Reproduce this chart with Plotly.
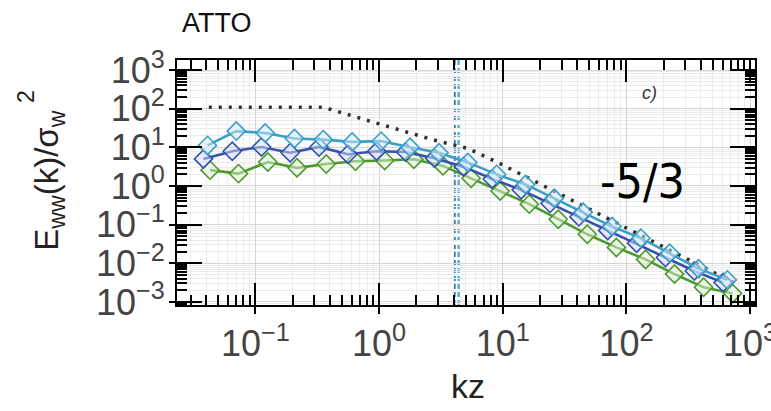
import plotly.graph_objects as go

# ---------------- data ----------------
# kz positions of the binned spectra (one list per series)
kz_cyan = [0.041, 0.070, 0.120, 0.207, 0.354, 0.606, 1.04, 1.78, 3.05, 5.22,
           8.93, 15.3, 26.1, 44.7, 76.5, 131, 224, 383, 656]
kz_blue = [0.038, 0.065, 0.112, 0.191, 0.327, 0.560, 0.958, 1.64, 2.81, 4.81,
           8.23, 14.1, 24.1, 41.3, 70.6, 121, 207, 354, 606]
kz_green = [0.043, 0.073, 0.126, 0.217, 0.374, 0.645, 1.11, 1.91, 3.29, 5.55,
            9.53, 16.4, 28.1, 48.3, 83.0, 143, 245, 421, 723]

# log10 of E_ww(k)/sigma_w^2
logE_cyan = [1.05, 1.42, 1.37, 1.23, 1.20, 1.14, 1.16, 1.00, 0.86, 0.61,
             0.30, 0.04, -0.32, -0.68, -1.05, -1.35, -1.74, -2.14, -2.43]
logE_blue = [0.70, 0.90, 1.01, 0.86, 1.01, 0.82, 0.90, 0.88, 0.72, 0.50,
             0.18, -0.10, -0.45, -0.80, -1.15, -1.48, -1.85, -2.20, -2.50]
logE_green = [0.41, 0.32, 0.62, 0.47, 0.57, 0.64, 0.66, 0.69, 0.52, 0.20,
              -0.13, -0.47, -0.86, -1.25, -1.59, -1.90, -2.28, -2.62, -2.78]

# dotted reference spectrum
kz_ref = [0.042, 0.355, 0.437, 1.0, 2.69, 5.25, 9.23, 824]
logE_ref = [2.04, 2.04, 1.95, 1.60, 1.20, 0.97, 0.60, -2.58]

# vertical dashed markers (kz)
kz_marks = [4.07, 4.40]

tick_vals_x = [0.1, 1, 10, 100, 1000]
tick_text_x = ["10<sup>−1</sup>", "10<sup>0</sup>", "10<sup>1</sup>",
               "10<sup>2</sup>", "10<sup>3</sup>"]
tick_vals_y = [1e-3, 1e-2, 1e-1, 1, 10, 100, 1000]
tick_text_y = ["10<sup>−3</sup>", "10<sup>−2</sup>", "10<sup>−1</sup>",
               "10<sup>0</sup>", "10<sup>1</sup>", "10<sup>2</sup>",
               "10<sup>3</sup>"]

# ---------------- styles ----------------
C_CYAN = "#3a9fc6"
C_BLUE = "#3452ae"
C_GREEN = "#4d9a2c"
FONT = "Liberation Sans, Arial, Helvetica, sans-serif"

fig = go.Figure()

fig.add_trace(go.Scatter(
    x=kz_ref, y=[10 ** v for v in logE_ref], mode="lines",
    line=dict(color="#303030", width=3.5, dash="3px,7px"),
    hoverinfo="skip"))

def series(x, logy, col, fill):
    fig.add_trace(go.Scatter(
        x=x, y=[10 ** v for v in logy], mode="lines+markers",
        line=dict(color=col, width=2.6),
        marker=dict(symbol="diamond", size=14, color=fill,
                    line=dict(color=col, width=1.6))))

series(kz_green, logE_green, C_GREEN, "rgba(225,240,215,0.5)")
series(kz_blue, logE_blue, C_BLUE, "rgba(215,222,245,0.5)")
series(kz_cyan, logE_cyan, C_CYAN, "rgba(215,238,248,0.5)")

for k, col in zip(kz_marks, ["#2f7db5", "#5aabd6"]):
    fig.add_shape(type="line", xref="x", yref="paper", x0=k, x1=k, y0=0, y1=1,
                  line=dict(color=col, width=2.5, dash="5px,3px"),
                  layer="between")

# secondary axes only for the outward part of the crossing major ticks
fig.add_trace(go.Scatter(x=[], y=[], xaxis="x2", yaxis="y2", showlegend=False))

xr = [-1.634, 3.04]
yr = [-3.08, 3.26]

common = dict(type="log", showline=True, linecolor="black", linewidth=2,
              mirror="allticks", ticks="inside", tickcolor="black",
              tickwidth=2, showgrid=True, gridcolor="#d6d6d6", gridwidth=1,
              zeroline=False, automargin=False,
              tickfont=dict(family=FONT, size=36, color="#444444"),
              minor=dict(ticks="inside", ticklen=10, tickwidth=1.5,
                         tickcolor="black", showgrid=True,
                         gridcolor="#ebebeb", gridwidth=1, dtick="D1"))

fig.update_layout(
    width=771, height=411,
    margin=dict(l=177, r=16, t=60, b=106, autoexpand=False),
    paper_bgcolor="white", plot_bgcolor="white",
    showlegend=False,
    xaxis=dict(range=xr, tickvals=tick_vals_x, ticktext=tick_text_x,
               ticklen=22, ticklabelstandoff=6, ticklabeloverflow="allow",
               **common),
    yaxis=dict(range=yr, tickvals=tick_vals_y, ticktext=tick_text_y,
               ticklen=25, ticklabelstandoff=3, **common),
    xaxis2=dict(type="log", range=xr, overlaying="x", anchor="y2",
                side="bottom", tickvals=tick_vals_x, ticks="outside",
                ticklen=8, tickwidth=2, tickcolor="black", automargin=False,
                showticklabels=False, showgrid=False, showline=False,
                zeroline=False),
    yaxis2=dict(type="log", range=yr, overlaying="y", anchor="x2",
                side="left", tickvals=tick_vals_y, ticks="outside",
                ticklen=7, tickwidth=2, tickcolor="black", automargin=False,
                showticklabels=False, showgrid=False, showline=False,
                zeroline=False),
)

def ann(text, x, y, size, color="#1a1a1a", family=FONT, angle=0,
        xanchor="center", yanchor="middle"):
    fig.add_annotation(text=text, xref="paper", yref="paper", x=x, y=y,
                       showarrow=False, textangle=angle, xanchor=xanchor,
                       yanchor=yanchor,
                       font=dict(size=size, color=color, family=family))

ann("ATTO", 0.006, 1.153, 27, color="#111111", xanchor="left")
ann("kz", 0.503, -0.33, 34, color="#222222")
ann("E<sub>ww</sub>(k)/σ<sub>w</sub>", -0.222, 0.506, 33,
    color="#222222", angle=-90)
ann("2", -0.262, 0.851, 23, color="#222222", angle=-90)
ann("<i>c)</i>", 0.818, 0.865, 18, color="#333333")
ann("-5/3", 0.806, 0.506, 48, color="#000000",
    family="Liberation Sans Narrow, DejaVu Sans Condensed, Arial Narrow, sans-serif")

fig.write_html("out.html")
